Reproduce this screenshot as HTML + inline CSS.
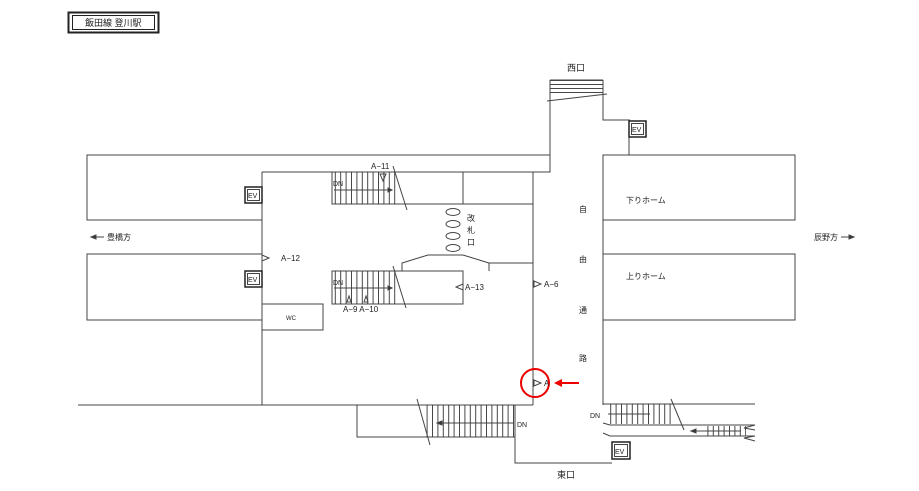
<!DOCTYPE html>
<html><head><meta charset="utf-8"><style>
html,body{margin:0;padding:0;background:#fff;}
svg{display:block;font-family:"Liberation Sans","Noto Sans CJK JP",sans-serif;}
</style></head><body>
<svg width="919" height="491" viewBox="0 0 919 491" xmlns="http://www.w3.org/2000/svg">
<defs>
<pattern id="tv" width="5.4" height="10" patternUnits="userSpaceOnUse"><line x1="0.5" y1="0" x2="0.5" y2="10" stroke="#333" stroke-width="0.9"/></pattern>
<pattern id="th" width="10" height="4" patternUnits="userSpaceOnUse"><line x1="0" y1="0.5" x2="10" y2="0.5" stroke="#333" stroke-width="0.9"/></pattern>
</defs>
<g fill="none" stroke="#444" stroke-width="1">
<!-- title -->
<rect x="68.5" y="12.5" width="90" height="20" stroke="#222" stroke-width="2"/>
<rect x="72.5" y="15.5" width="82" height="14" stroke="#222"/>
<!-- west exit -->
<rect x="550" y="80" width="53" height="15" fill="url(#th)" stroke="none"/>
<line x1="550" y1="80" x2="603" y2="80"/>
<line x1="547" y1="101" x2="607" y2="94"/>
<polyline points="550,80 550,172 262,172"/>
<polyline points="603,80 603,120 630,120"/>
<line x1="629" y1="137" x2="629" y2="155"/>
<!-- top left building -->
<polyline points="550,155 87,155 87,220 262,220"/>
<!-- lower left building -->
<polyline points="262,254 87,254 87,320 262,320"/>
<!-- inner main -->
<polyline points="262,172 262,405"/>
<line x1="78" y1="405" x2="533" y2="405"/>
<line x1="533" y1="172" x2="533" y2="405"/>
<!-- top stair -->
<rect x="332" y="172" width="131" height="32"/>
<rect x="332" y="172" width="66" height="32" fill="url(#tv)" stroke="none"/>
<line x1="393" y1="166" x2="407" y2="210"/>
<rect x="463" y="172" width="70" height="32"/>
<!-- lower stair -->
<rect x="332" y="271" width="131" height="33"/>
<rect x="332" y="271" width="66" height="33" fill="url(#tv)" stroke="none"/>
<line x1="393" y1="266" x2="406" y2="308"/>
<polyline points="402,271 402,263 428,255 463,255 489,263 489,271"/>
<polyline points="489,263 533,263"/>
<!-- WC -->
<polyline points="262,304 323,304 323,330 262,330"/>
<!-- gates -->
<ellipse cx="453" cy="212" rx="7" ry="3.5"/>
<ellipse cx="453" cy="224" rx="7" ry="3.5"/>
<ellipse cx="453" cy="236" rx="7" ry="3.5"/>
<ellipse cx="453" cy="248" rx="7" ry="3.5"/>
<!-- right buildings -->
<polyline points="603,405 603,155 795,155 795,220 603,220"/>
<polyline points="603,254 795,254 795,320 603,320"/>
<!-- bottom stair -->
<rect x="357" y="405" width="158" height="32"/>
<rect x="424" y="405" width="91" height="32" fill="url(#tv)" stroke="none"/>
<line x1="417" y1="399" x2="430" y2="445"/>
<polyline points="515,405 515,463 612,463"/>
<!-- east stairs -->
<line x1="603" y1="404" x2="755" y2="404"/>
<rect x="607" y="404" width="66" height="20" fill="url(#tv)" stroke="none"/>
<line x1="671" y1="399" x2="684" y2="430"/>
<polyline points="603,423 610,425 755,425 744,428 755,430"/>
<rect x="703" y="426" width="43" height="10" fill="url(#tv)" stroke="none"/>
<polyline points="603,433 610,436 755,436 744,438 755,441"/>
<!-- EV boxes -->
<rect x="245" y="187" width="17" height="16" stroke="#222" stroke-width="1.5"/>
<rect x="247.5" y="189.5" width="12" height="11"/>
<rect x="245" y="271" width="17" height="16" stroke="#222" stroke-width="1.5"/>
<rect x="247.5" y="273.5" width="12" height="11"/>
<rect x="629" y="121" width="17" height="16" stroke="#222" stroke-width="1.5"/>
<rect x="631.5" y="123.5" width="12" height="11"/>
<rect x="612" y="442" width="18" height="17" stroke="#222" stroke-width="1.5"/>
<rect x="614.5" y="444.5" width="13" height="12"/>
<!-- triangles -->
<polygon points="380,174 386,174 383,181"/>
<polygon points="347,302 351,302 349,296"/>
<polygon points="364,302 368,302 366,296"/>
<polygon points="262,255 262,261 269,258"/>
<polygon points="463,284 463,290 456,287"/>
<polygon points="534,281 534,287 541,284"/>
<polygon points="534,380 534,386 541,383"/>
<!-- DN arrows -->
<line x1="334" y1="190" x2="388" y2="190"/><polygon points="388,188 392,190 388,192" fill="#333"/>
<line x1="334" y1="288" x2="388" y2="288"/><polygon points="388,286 392,288 388,290" fill="#333"/>
<line x1="438" y1="423" x2="513" y2="423"/><polygon points="442,421 437,423 442,425" fill="#333"/>
<line x1="608" y1="414" x2="650" y2="414"/>
<line x1="692" y1="431" x2="741" y2="431"/><polygon points="696,429 691,431 696,433" fill="#333"/>
<!-- direction arrows -->
<line x1="94" y1="237" x2="104" y2="237"/><polygon points="96,235 91,237 96,239" fill="#333"/>
<line x1="841" y1="237" x2="851" y2="237"/><polygon points="849,235 854,237 849,239" fill="#333"/>
</g>
<!-- red annotation -->
<circle cx="535" cy="383" r="14" fill="none" stroke="#e00" stroke-width="2"/>
<line x1="579" y1="383" x2="560" y2="383" stroke="#e00" stroke-width="2"/>
<polygon points="562,379 554,383 562,387" fill="#e00"/>
<g fill="#222" font-size="8">
<text x="85" y="26" font-size="9">飯田線 登川駅</text>
<text x="567" y="71" font-size="9">西口</text>
<text x="557" y="478" font-size="9">東口</text>
<text x="371" y="169">A−11</text>
<text x="333" y="186" font-size="7">DN</text>
<text x="333" y="285" font-size="7">DN</text>
<text x="343" y="312">A−9 A−10</text>
<text x="281" y="261">A−12</text>
<text x="465" y="290">A−13</text>
<text x="544" y="287">A−6</text>
<text x="544" y="386">A</text>
<text x="517" y="427" font-size="7">DN</text>
<text x="590" y="418" font-size="7">DN</text>
<text x="286" y="320" font-size="6">WC</text>
<text x="248" y="198" font-size="7">EV</text>
<text x="248" y="282" font-size="7">EV</text>
<text x="632" y="132" font-size="7">EV</text>
<text x="615" y="454" font-size="7">EV</text>
<text x="467" y="221">改</text>
<text x="467" y="233">札</text>
<text x="467" y="245">口</text>
<text x="579" y="212">自</text>
<text x="579" y="262">由</text>
<text x="579" y="313">通</text>
<text x="579" y="361">路</text>
<text x="626" y="203">下りホーム</text>
<text x="626" y="279">上りホーム</text>
<text x="107" y="240">豊橋方</text>
<text x="814" y="240">辰野方</text>
</g>
</svg>
</body></html>
